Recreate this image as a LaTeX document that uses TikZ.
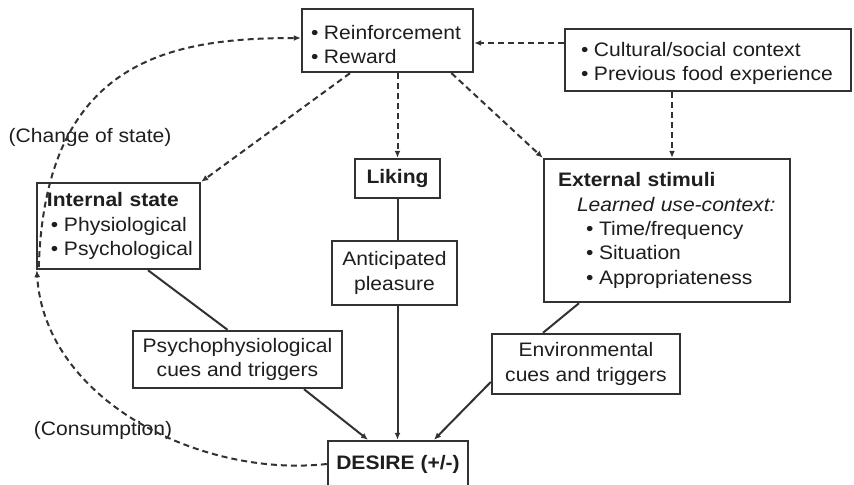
\documentclass[tikz,border=0pt]{standalone}
\usepackage{fontspec}
\setmainfont{Liberation Sans}[FakeStretch=1.08]
\usetikzlibrary{arrows.meta}
\definecolor{ink}{RGB}{30,30,30}
\definecolor{edge}{RGB}{50,50,50}
\newcommand{\fs}{\fontsize{19.5bp}{24.3bp}\selectfont}
\newcommand{\itm}[1]{\makebox[13bp][l]{\textbullet}#1}
\begin{document}
\begin{tikzpicture}[x=1bp,y=-1bp,
  box/.style={draw=edge,line width=2.4bp,inner sep=0pt,text=ink,font=\fs},
  lbl/.style={inner sep=0pt,text=ink,font=\fs},
  link/.style={draw=edge,line width=2bp},
  dlink/.style={link,dash pattern=on 6bp off 4bp},
  tip/.style={-{Latex[length=7bp,width=6bp]}}]
\useasboundingbox[fill=white] (0,0) rectangle (854,485);

% boxes
\node[box,minimum width=171bp,minimum height=63bp,inner xsep=9bp,
      text width=153bp,align=left] (rew) at (387.5,40.5)
      {\rule{0pt}{22bp}\itm{Reinforcement}\\\itm{Reward}};
\node[box,minimum width=286bp,minimum height=62bp,inner xsep=16bp,
      text width=254bp,align=left] (cult) at (708,60)
      {\rule{0pt}{21bp}\itm{Cultural/social context}\\\itm{Previous food experience}};
\node[box,minimum width=85bp,minimum height=39bp] (lik) at (397.5,178.5)
      {\bfseries Liking};
\node[box,minimum width=163bp,minimum height=86bp,inner xsep=10bp,
      text width=143bp,align=left] (int) at (118.5,226)
      {{\bfseries Internal state}\\\hspace*{4bp}\itm{Physiological}\\\hspace*{4bp}\itm{Psychological}};
\node[box,minimum width=246bp,minimum height=143bp,inner xsep=14bp,
      text width=218bp,align=left] (ext) at (667,230.5)
      {{\bfseries External stimuli}\\
       \hspace*{19bp}\textit{Learned use-context:}\\
       \hspace*{28bp}\itm{Time/frequency}\\
       \hspace*{28bp}\itm{Situation}\\
       \hspace*{28bp}\itm{Appropriateness}};
\node[box,minimum width=125bp,minimum height=64bp,align=center] (ant) at (394.5,273)
      {Anticipated\\pleasure};
\node[box,minimum width=209bp,minimum height=57bp,align=center] (psy) at (237.5,359.5)
      {Psychophysiological\\cues and triggers};
\node[box,minimum width=188bp,minimum height=60bp,align=center] (env) at (586,364)
      {Environmental\\cues and triggers};
\node[box,minimum width=140bp,minimum height=46bp] (des) at (398,464)
      {\bfseries DESIRE (+/-)};

% curve labels
\node[lbl] (cos) at (90,137) {(Change of state)};
\node[lbl] (con) at (103,430) {(Consumption)};

% dashed links from the reward box and the context box
\coordinate (cw) at ([yshift=17bp]cult.west);
\draw[dlink,tip] (cw) -- (cw -| rew.east);
\coordinate (cs) at ([xshift=-36bp]cult.south);
\draw[dlink,tip] (cs) -- (cs |- ext.north);
\draw[dlink,tip] (lik.north |- rew.south) -- (lik.north);
\draw[dlink,tip] ([xshift=-37.5bp]rew.south) -- (int.north east);
\draw[dlink,tip] ([xshift=64bp]rew.south) -- (ext.north west);

% feedback loop
\draw[dlink,tip] (des.west) .. controls (200,478) and (45,400) .. ([xshift=1bp]int.south west);
\draw[dlink,tip] ([xshift=3bp,yshift=3bp]int.south west) .. controls (45,60) and (170,38) .. ([yshift=2.5bp]rew.west);

% solid links towards desire
\draw[link] (lik.south) -- (lik.south |- ant.north);
\draw[link,tip] (lik.south |- ant.south) -- (lik.south |- des.north);
\draw[link] ([xshift=29.5bp]int.south) -- ([xshift=-10bp]psy.north);
\draw[link,tip] ([xshift=66.5bp]psy.south) -- ([xshift=-30bp]des.north);
\draw[link] ([xshift=-88bp]ext.south) -- ([xshift=-43bp]env.north);
\draw[link,tip] ([yshift=-18bp]env.west) -- ([xshift=36bp]des.north);
\end{tikzpicture}
\end{document}
